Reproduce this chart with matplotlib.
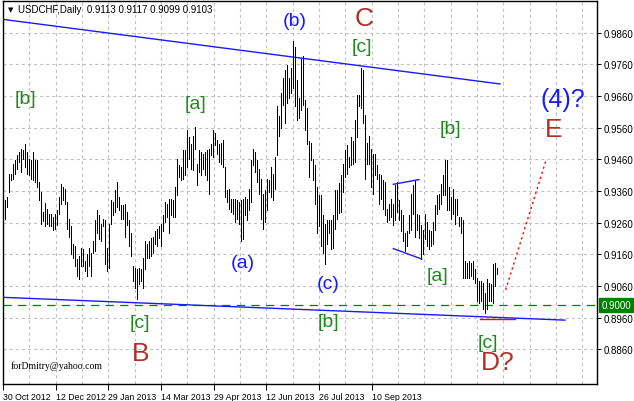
import matplotlib
matplotlib.use('Agg')
import matplotlib.pyplot as plt
import numpy as np

plt.rcParams['font.family'] = ['Liberation Sans', 'DejaVu Sans']
plt.rcParams['lines.scale_dashes'] = False

symbol_info = 'USDCHF,Daily  0.9113 0.9117 0.9099 0.9103'

# daily highs / lows, one value per bar
highs = [
    0.9332, 0.9341, 0.9413, 0.9413, 0.9444, 0.9457, 0.9473, 0.9482, 0.9491, 0.9488,
    0.9507, 0.9482, 0.9460, 0.9457, 0.9482, 0.9457, 0.9457, 0.9388, 0.9357, 0.9294,
    0.9322, 0.9304, 0.9288, 0.9288, 0.9279, 0.9288, 0.9301, 0.9341, 0.9382, 0.9373,
    0.9366, 0.9326, 0.9273, 0.9248, 0.9191, 0.9185, 0.9144, 0.9154, 0.9179, 0.9176,
    0.9138, 0.9160, 0.9179, 0.9163, 0.9201, 0.9269, 0.9301, 0.9285, 0.9257, 0.9273,
    0.9269, 0.9179, 0.9257, 0.9332, 0.9326, 0.9363, 0.9388, 0.9341, 0.9316, 0.9316,
    0.9319, 0.9294, 0.9269, 0.9226, 0.9123, 0.9116, 0.9113, 0.9116, 0.9113, 0.9148,
    0.9201, 0.9194, 0.9201, 0.9210, 0.9216, 0.9232, 0.9241, 0.9248, 0.9257, 0.9285,
    0.9326, 0.9319, 0.9335, 0.9335, 0.9332, 0.9373, 0.9460, 0.9441, 0.9435, 0.9488,
    0.9488, 0.9551, 0.9529, 0.9507, 0.9535, 0.9563, 0.9444, 0.9488, 0.9482, 0.9476,
    0.9482, 0.9488, 0.9491, 0.9507, 0.9551, 0.9544, 0.9522, 0.9507, 0.9513, 0.9522,
    0.9435, 0.9363, 0.9366, 0.9335, 0.9335, 0.9335, 0.9332, 0.9326, 0.9332, 0.9335,
    0.9341, 0.9335, 0.9366, 0.9457, 0.9491, 0.9482, 0.9457, 0.9429, 0.9398, 0.9351,
    0.9363, 0.9398, 0.9394, 0.9435, 0.9413, 0.9466, 0.9629, 0.9598, 0.9669, 0.9716,
    0.9741, 0.9757, 0.9716, 0.9748, 0.9835, 0.9816, 0.9710, 0.9654, 0.9779, 0.9785,
    0.9648, 0.9623, 0.9519, 0.9513, 0.9460, 0.9441, 0.9373, 0.9348, 0.9348, 0.9285,
    0.9257, 0.9269, 0.9269, 0.9269, 0.9285, 0.9363, 0.9363, 0.9385, 0.9410, 0.9444,
    0.9488, 0.9504, 0.9466, 0.9529, 0.9519, 0.9585, 0.9663, 0.9663, 0.9748, 0.9741,
    0.9601, 0.9513, 0.9535, 0.9491, 0.9476, 0.9476, 0.9441, 0.9413, 0.9410, 0.9394,
    0.9388, 0.9304, 0.9319, 0.9335, 0.9319, 0.9379, 0.9388, 0.9332, 0.9301, 0.9285,
    0.9226, 0.9232, 0.9285, 0.9351, 0.9379, 0.9394, 0.9288, 0.9285, 0.9254, 0.9238,
    0.9288, 0.9263, 0.9238, 0.9232, 0.9263, 0.9316, 0.9348, 0.9351, 0.9382, 0.9410,
    0.9457, 0.9457, 0.9373, 0.9341, 0.9366, 0.9335, 0.9335, 0.9279, 0.9279, 0.9269,
    0.9138, 0.9132, 0.9138, 0.9132, 0.9138, 0.9113, 0.9085, 0.9076, 0.9076, 0.9070,
    0.9038, 0.9082, 0.9070, 0.9066, 0.9129, 0.9132, 0.9117,
]
lows = [
    0.9272, 0.9310, 0.9357, 0.9394, 0.9398, 0.9413, 0.9429, 0.9451, 0.9419, 0.9460,
    0.9435, 0.9413, 0.9410, 0.9398, 0.9394, 0.9388, 0.9373, 0.9332, 0.9257, 0.9266,
    0.9248, 0.9257, 0.9248, 0.9248, 0.9238, 0.9241, 0.9254, 0.9288, 0.9319, 0.9332,
    0.9319, 0.9241, 0.9216, 0.9160, 0.9148, 0.9123, 0.9091, 0.9082, 0.9123, 0.9123,
    0.9107, 0.9091, 0.9123, 0.9091, 0.9163, 0.9169, 0.9226, 0.9207, 0.9201, 0.9248,
    0.9129, 0.9107, 0.9116, 0.9257, 0.9285, 0.9294, 0.9310, 0.9301, 0.9273, 0.9273,
    0.9216, 0.9254, 0.9185, 0.9154, 0.9076, 0.9054, 0.9019, 0.9066, 0.9076, 0.9054,
    0.9113, 0.9148, 0.9148, 0.9154, 0.9163, 0.9194, 0.9185, 0.9210, 0.9185, 0.9232,
    0.9263, 0.9279, 0.9226, 0.9285, 0.9279, 0.9279, 0.9348, 0.9404, 0.9394, 0.9398,
    0.9410, 0.9435, 0.9460, 0.9429, 0.9426, 0.9491, 0.9379, 0.9419, 0.9410, 0.9429,
    0.9410, 0.9394, 0.9351, 0.9473, 0.9466, 0.9504, 0.9476, 0.9451, 0.9444, 0.9435,
    0.9341, 0.9326, 0.9304, 0.9294, 0.9288, 0.9263, 0.9273, 0.9257, 0.9201, 0.9207,
    0.9285, 0.9269, 0.9301, 0.9326, 0.9441, 0.9419, 0.9388, 0.9351, 0.9273, 0.9241,
    0.9263, 0.9301, 0.9357, 0.9341, 0.9332, 0.9366, 0.9473, 0.9535, 0.9560, 0.9632,
    0.9576, 0.9638, 0.9654, 0.9669, 0.9685, 0.9629, 0.9585, 0.9591, 0.9616, 0.9632,
    0.9551, 0.9507, 0.9404, 0.9457, 0.9394, 0.9319, 0.9226, 0.9248, 0.9185, 0.9163,
    0.9129, 0.9194, 0.9226, 0.9176, 0.9179, 0.9241, 0.9273, 0.9291, 0.9294, 0.9357,
    0.9404, 0.9413, 0.9435, 0.9441, 0.9444, 0.9451, 0.9529, 0.9629, 0.9623, 0.9576,
    0.9398, 0.9444, 0.9444, 0.9373, 0.9351, 0.9410, 0.9398, 0.9319, 0.9335, 0.9304,
    0.9285, 0.9263, 0.9269, 0.9279, 0.9254, 0.9269, 0.9294, 0.9269, 0.9232, 0.9201,
    0.9169, 0.9185, 0.9226, 0.9238, 0.9288, 0.9216, 0.9238, 0.9210, 0.9144, 0.9160,
    0.9207, 0.9185, 0.9176, 0.9185, 0.9191, 0.9238, 0.9288, 0.9304, 0.9319, 0.9348,
    0.9348, 0.9301, 0.9301, 0.9273, 0.9288, 0.9257, 0.9285, 0.9248, 0.9226, 0.9085,
    0.9085, 0.9085, 0.9085, 0.9091, 0.9082, 0.9070, 0.9013, 0.9007, 0.9013, 0.8988,
    0.8976, 0.8988, 0.9013, 0.9013, 0.9007, 0.9060, 0.9099,
]

price_ticks = [0.8860, 0.8960, 0.9060, 0.9160, 0.9260, 0.9360,
               0.9460, 0.9560, 0.9660, 0.9760, 0.9860]
date_labels = ['30 Oct 2012', '12 Dec 2012', '29 Jan 2013', '14 Mar 2013',
               '29 Apr 2013', '12 Jun 2013', '26 Jul 2013', '10 Sep 2013']

# trend lines: (bar index, price) end points
upper_line = [(-1.15, 0.9902), (247.35, 0.9698)]
lower_line = [(-1.15, 0.9024), (279.85, 0.8952)]
tri_upper = [(194.0, 0.9381), (206.85, 0.9396)]
tri_lower = [(194.0, 0.9178), (208.2, 0.9145)]
support_line = [(237.35, 0.8957), (254.85, 0.8957)]
forecast_line = [(250.2, 0.9048), (270.35, 0.9457)]
round_level = 0.9000

GREEN = '#1e8a1e'
BLUE = '#1a1aff'
BROWN = '#b03028'

# wave counts: text, bar index, price, colour, size
wave_labels = [
    ('[b]', 9.85, 0.9651, GREEN, 14),
    ('[a]', 94.85, 0.9635, GREEN, 14),
    ('(b)', 144.85, 0.9897, BLUE, 14),
    ('C', 179.35, 0.9907, BROWN, 19),
    ('[c]', 178.35, 0.9816, GREEN, 14),
    ('(4)?', 278.85, 0.9651, BLUE, 18),
    ('E', 274.35, 0.9557, BROWN, 19),
    ('[b]', 222.35, 0.9557, GREEN, 14),
    ('(a)', 118.85, 0.9135, BLUE, 14),
    ('(c)', 161.35, 0.9069, BLUE, 14),
    ('[a]', 215.85, 0.9094, GREEN, 14),
    ('[c]', 67.35, 0.8944, GREEN, 14),
    ('B', 67.85, 0.8848, BROWN, 19),
    ('[b]', 161.35, 0.8947, GREEN, 14),
    ('[c]', 241.35, 0.8882, GREEN, 14),
    ('D?', 246.35, 0.8819, BROWN, 19),
]

fig = plt.figure(figsize=(6.34, 4.02), dpi=100)
ax = fig.add_axes([3 / 634, 17 / 402, 594 / 634, 383 / 402])
ax.set_xlim(-1.15, 295.85)
ax.set_ylim(0.87503, 0.99600)

# grid
grid_step = 13.17
grid_x = -1.15 + grid_step * np.arange(23)
for gx in grid_x[1:]:
    ax.axvline(gx, color='#c0c0c0', lw=0.8, ls=(0, (2.2, 2.2)), zorder=0)
for py in price_ticks:
    ax.axhline(py, color='#c0c0c0', lw=0.8, ls=(0, (2.2, 2.2)), zorder=0)

# bars
idx = np.arange(len(highs))
ax.vlines(idx, lows, highs, colors='black', linewidth=0.72, antialiased=False, zorder=3)

# lines
ax.axhline(round_level, color='#008000', lw=0.9, ls=(0, (6, 4.5)), zorder=2)
ax.plot(*zip(*support_line), color='red', lw=1.0, zorder=4)
for seg in (upper_line, lower_line, tri_upper, tri_lower):
    ax.plot(*zip(*seg), color=BLUE, lw=1.0, zorder=4)
ax.plot(*zip(*forecast_line), color='red', lw=1.0, ls=(0, (1.6, 2.2)), zorder=4)

for txt, x, y, c, s in wave_labels:
    ax.text(x, y, txt, color=c, fontsize=s, ha='center', va='center', zorder=5)

ax.text(2.5, 0.8810, 'forDmitry@yahoo.com', fontsize=7, family='Liberation Serif',
        ha='left', va='center', zorder=5)

# axes styling
for sp in ax.spines.values():
    sp.set_linewidth(1.0)
    sp.set_color('black')
ax.yaxis.tick_right()
ax.set_yticks(price_ticks)
ax.set_yticklabels(['%.4f' % p for p in price_ticks])
ax.tick_params(axis='y', length=3, width=0.7, pad=1.5, labelsize=7)
ax.set_xticks(grid_x[::2][:len(date_labels)])
ax.set_xticklabels(date_labels, ha='left')
ax.tick_params(axis='x', length=4, width=0.7, pad=1.5, labelsize=6.3)

ax.annotate('%.4f' % round_level, xy=(1, round_level), xycoords=('axes fraction', 'data'),
            xytext=(3, 0), textcoords='offset points', va='center', ha='left',
            fontsize=7, color='white',
            bbox=dict(boxstyle='square,pad=0.2', fc='#008000', ec='#008000'))

fig.text(11 / 634, 1 - 10 / 402, '\u25bc', fontsize=5, ha='center', va='center',
         family='DejaVu Sans')
fig.text(18 / 634, 1 - 10 / 402, symbol_info, fontsize=7, ha='left', va='center')

fig.savefig('out.png', dpi=100)
